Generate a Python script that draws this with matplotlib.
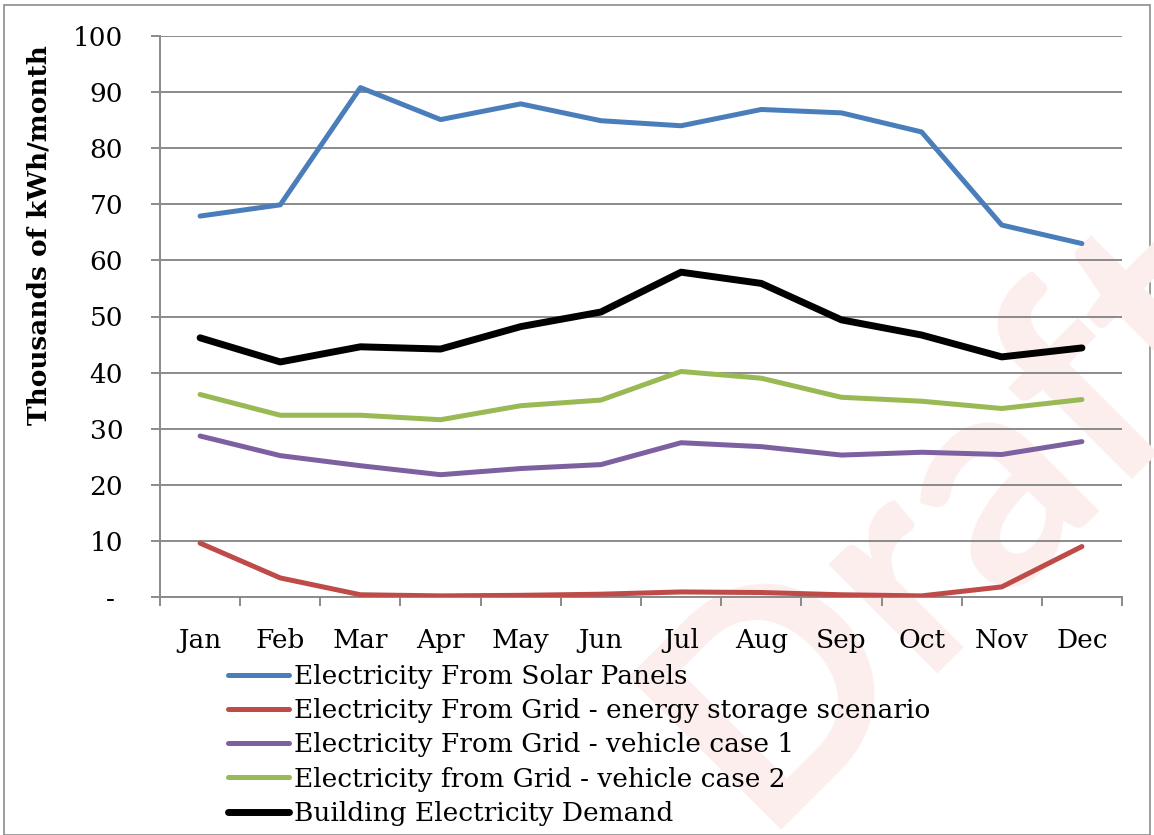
import matplotlib
matplotlib.use("Agg")
import matplotlib.pyplot as plt
from matplotlib.patches import Rectangle

months = ["Jan", "Feb", "Mar", "Apr", "May", "Jun",
          "Jul", "Aug", "Sep", "Oct", "Nov", "Dec"]

solar = [67.9, 69.9, 90.8, 85.1, 87.9, 84.9, 84.0, 86.9, 86.3, 82.9, 66.3, 63.0]
grid_storage = [9.6, 3.4, 0.4, 0.2, 0.3, 0.5, 0.9, 0.8, 0.4, 0.2, 1.8, 9.0]
grid_vehicle1 = [28.7, 25.2, 23.4, 21.8, 22.9, 23.6, 27.5, 26.8, 25.3, 25.8, 25.4, 27.7]
grid_vehicle2 = [36.1, 32.4, 32.4, 31.6, 34.1, 35.1, 40.2, 39.0, 35.6, 34.9, 33.6, 35.2]
demand = [46.2, 41.9, 44.6, 44.2, 48.2, 50.8, 57.9, 55.9, 49.4, 46.7, 42.8, 44.4]

series = [
    ("Electricity From Solar Panels", solar, "#4A7EBB", 3.6),
    ("Electricity From Grid - energy storage scenario", grid_storage, "#BE4B48", 3.6),
    ("Electricity From Grid - vehicle case 1", grid_vehicle1, "#7D60A0", 3.6),
    ("Electricity from Grid - vehicle case 2", grid_vehicle2, "#98B954", 3.6),
    ("Building Electricity Demand", demand, "#000000", 5.0),
]

yticks = [0, 10, 20, 30, 40, 50, 60, 70, 80, 90, 100]
ytick_labels = ["- "] + [str(v) for v in yticks[1:]]

serif = ["DejaVu Serif"]
fs = 19
W, H = 1154, 835
fig = plt.figure(figsize=(W / 100, H / 100), dpi=100)
fig.patch.set_facecolor("white")

# outer frame
fig.add_artist(Rectangle((4 / W, 0), (W - 8) / W, 1 - 5 / H, transform=fig.transFigure,
                         fill=False, edgecolor="#8c8c8c", linewidth=1.2, zorder=0))

# watermark behind the plot
fig.text(0.8215, 0.380, "Draft", transform=fig.transFigure, rotation=45,
         ha="center", va="center", fontsize=216, fontweight="bold",
         family=["Lato", "Liberation Sans"], color="#FDEEEE", zorder=0)

ax = fig.add_axes([160 / W, 1 - 597 / H, (1122 - 160) / W, (597 - 36) / H])
ax.set_facecolor("none")
ax.set_zorder(2)

x = list(range(len(months)))
for label, vals, color, lw in series:
    ax.plot(x, vals, color=color, linewidth=lw, label=label,
            solid_capstyle="round", solid_joinstyle="round", zorder=3)

ax.set_xlim(-0.5, len(months) - 0.5)
ax.set_ylim(0, 100)
ax.set_yticks(yticks)
ax.set_yticklabels(ytick_labels, family=serif, fontsize=fs)
ax.yaxis.grid(True, color="#8a8a8a", linewidth=1.4)
ax.set_axisbelow(True)

# ticks between categories, labels at category centres
ax.set_xticks([i - 0.5 for i in range(len(months) + 1)])
ax.set_xticklabels([])
ax.set_xticks(x, minor=True)
ax.set_xticklabels(months, minor=True, family=serif, fontsize=fs)
ax.tick_params(axis="x", which="major", length=6.5, width=1.4, color="#8a8a8a", direction="out")
ax.tick_params(axis="x", which="minor", length=0, pad=22)
ax.tick_params(axis="y", length=6.5, width=1.4, color="#8a8a8a", direction="out", pad=20)

for side in ("top", "right"):
    ax.spines[side].set_visible(False)
for side in ("left", "bottom"):
    ax.spines[side].set_color("#8a8a8a")
    ax.spines[side].set_linewidth(1.4)

fig.text(39 / W, 1 - 235 / H, "Thousands of kWh/month", family=serif, fontsize=fs,
         fontweight="bold", rotation=90, ha="center", va="center")

leg = ax.legend(loc="upper left", bbox_to_anchor=(228 / W, 1 - 664 / H),
                bbox_transform=fig.transFigure, frameon=False,
                prop={"family": serif, "size": fs}, handlelength=2.3,
                handletextpad=0.2, labelspacing=0.35, borderpad=0, borderaxespad=0)

fig.savefig("out.png", dpi=100)
